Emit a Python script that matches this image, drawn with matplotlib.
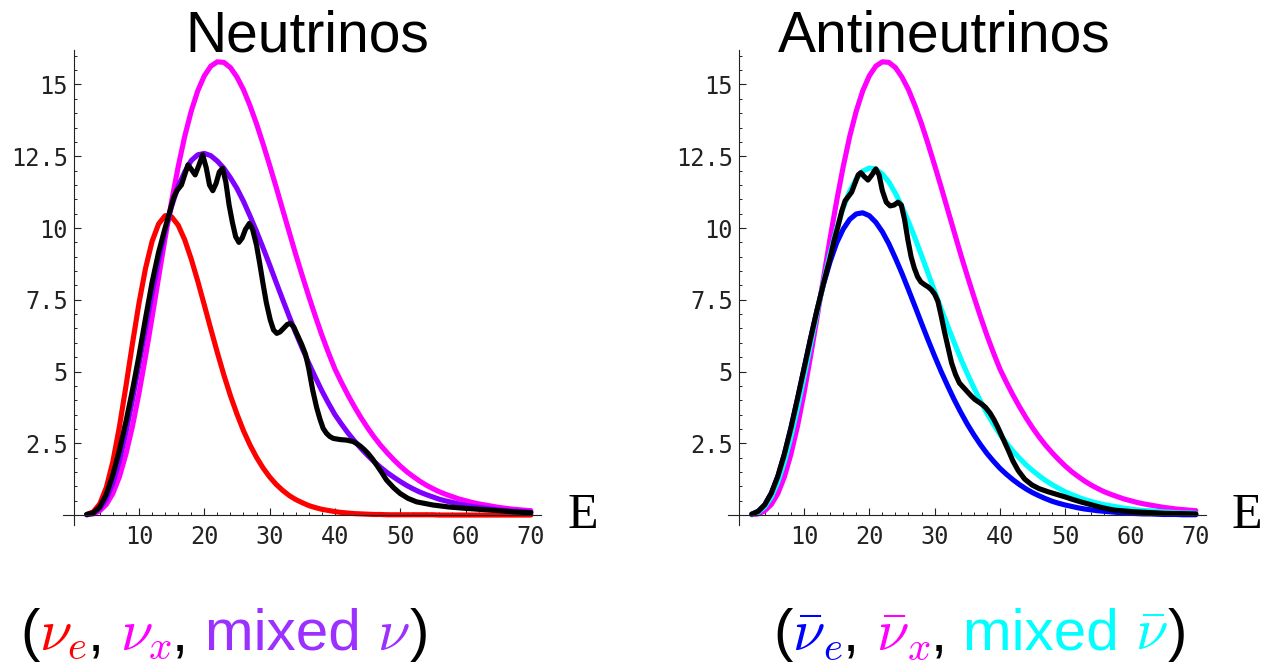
import numpy as np
import matplotlib
matplotlib.use("Agg")
import matplotlib.pyplot as plt
from matplotlib.transforms import IdentityTransform

# Espectros (E de 2 a 70, paso 1)
energy = np.arange(2, 71)

nu_e = [0.02, 0.11, 0.39, 0.96, 1.86, 3.07, 4.48, 5.97, 7.38, 8.59,
        9.53, 10.14, 10.43, 10.39, 10.10, 9.59, 8.92, 8.15, 7.32, 6.48,
        5.66, 4.88, 4.16, 3.52, 2.94, 2.44, 2.01, 1.64, 1.33, 1.07,
        0.86, 0.68, 0.54, 0.43, 0.33, 0.26, 0.20, 0.16, 0.12, 0.09,
        0.07, 0.05, 0.04, 0.03, 0.02, 0.02, 0.01, 0.01, 0.01, 0.01,
        0.01, 0.01, 0.01, 0.01, 0.0, 0.0, 0.0, 0.0, 0.0, 0.0,
        0.0, 0.0, 0.0, 0.0, 0.0, 0.0, 0.0, 0.0, 0.0]

nu_x = [0.01, 0.04, 0.15, 0.37, 0.75, 1.33, 2.12, 3.09, 4.24, 5.52,
        6.88, 8.27, 9.64, 10.94, 12.13, 13.19, 14.07, 14.78, 15.30, 15.64,
        15.79, 15.77, 15.59, 15.26, 14.82, 14.26, 13.63, 12.93, 12.19, 11.43,
        10.64, 9.86, 9.08, 8.34, 7.62, 6.93, 6.27, 5.66, 5.09, 4.62,
        4.18, 3.77, 3.39, 3.04, 2.72, 2.43, 2.17, 1.93, 1.71, 1.51,
        1.34, 1.18, 1.04, 0.92, 0.81, 0.72, 0.64, 0.56, 0.50, 0.44,
        0.39, 0.35, 0.31, 0.27, 0.24, 0.21, 0.19, 0.17, 0.15]

nu_mixed = [0.01, 0.06, 0.23, 0.56, 1.11, 1.89, 2.88, 4.01, 5.25, 6.50,
            7.73, 8.87, 9.89, 10.76, 11.45, 11.95, 12.35, 12.55, 12.60, 12.52,
            12.33, 12.08, 11.75, 11.38, 10.93, 10.42, 9.88, 9.31, 8.72, 8.11,
            7.51, 6.92, 6.35, 5.81, 5.29, 4.80, 4.33, 3.90, 3.50, 3.17,
            2.86, 2.58, 2.32, 2.08, 1.86, 1.66, 1.48, 1.32, 1.17, 1.03,
            0.91, 0.80, 0.71, 0.63, 0.55, 0.49, 0.44, 0.38, 0.34, 0.30,
            0.27, 0.24, 0.21, 0.18, 0.16, 0.14, 0.13, 0.12, 0.10]

anu_e = [0.03, 0.13, 0.36, 0.76, 1.35, 2.12, 3.03, 4.04, 5.09, 6.14,
         7.14, 8.05, 8.83, 9.48, 9.96, 10.30, 10.49, 10.53, 10.43, 10.20,
         9.87, 9.45, 8.95, 8.42, 7.85, 7.27, 6.68, 6.10, 5.54, 5.00,
         4.50, 4.02, 3.58, 3.17, 2.80, 2.46, 2.15, 1.88, 1.63, 1.42,
         1.23, 1.06, 0.91, 0.78, 0.67, 0.57, 0.48, 0.41, 0.35, 0.30,
         0.25, 0.21, 0.18, 0.15, 0.13, 0.11, 0.09, 0.07, 0.06, 0.05,
         0.04, 0.04, 0.03, 0.02, 0.02, 0.02, 0.01, 0.01, 0.01]

anu_x = nu_x  # el mismo espectro en ambos paneles

anu_mixed = [0.02, 0.10, 0.29, 0.63, 1.15, 1.85, 2.72, 3.72, 4.80, 5.93,
             7.05, 8.13, 9.11, 9.98, 10.70, 11.28, 11.71, 11.98, 12.09, 12.05,
             11.88, 11.60, 11.21, 10.75, 10.22, 9.65, 9.04, 8.42, 7.80, 7.19,
             6.59, 6.01, 5.45, 4.93, 4.44, 3.98, 3.55, 3.17, 2.81, 2.51,
             2.23, 1.98, 1.75, 1.55, 1.37, 1.20, 1.06, 0.93, 0.81, 0.71,
             0.62, 0.54, 0.47, 0.41, 0.36, 0.32, 0.28, 0.24, 0.21, 0.18,
             0.16, 0.15, 0.13, 0.11, 0.10, 0.08, 0.07, 0.07, 0.06]

# Curvas negras con oscilaciones (muestreo mas fino)
osc_nu_E = [2, 3, 4, 5, 6, 7, 8, 9, 10, 11, 12, 13, 14,
            14.75, 15.3, 15.8, 16.5, 17.0, 17.5, 18.0, 18.6, 19.2, 19.75,
            20.3, 20.8, 21.3, 21.8, 22.3, 22.8, 23.3, 23.8, 24.3, 24.8,
            25.3, 25.8, 26.3, 26.9, 27.4, 28.0, 28.5, 29.0, 29.5, 30.1,
            30.6, 31.1, 31.6, 32.2, 32.7, 33.2, 33.7, 34.3, 34.9, 35.5,
            36.0, 36.6, 37.2, 37.7, 38.2, 38.7, 39.2, 39.75, 40.8, 41.8,
            42.8, 43.4, 43.9, 44.5, 45.1, 45.7, 46.4, 47.2, 47.9, 49.0,
            50.0, 51.2, 52.5, 55.0, 57.5, 60.2, 62.7, 65.3, 67.5, 70]
osc_nu = [0.02, 0.08, 0.28, 0.72, 1.40, 2.25, 3.25, 4.35, 5.55, 6.85, 8.10, 9.15, 10.00,
          10.60, 11.05, 11.30, 11.50, 11.85, 12.20, 12.05, 11.85, 12.20, 12.55,
          12.10, 11.50, 11.30, 11.55, 11.95, 12.08, 11.60, 10.80, 10.20, 9.70,
          9.50, 9.65, 9.95, 10.16, 9.95, 9.40, 8.75, 8.05, 7.40, 6.80,
          6.45, 6.33, 6.38, 6.52, 6.64, 6.68, 6.55, 6.25, 5.95, 5.60,
          5.10, 4.35, 3.75, 3.35, 3.02, 2.85, 2.74, 2.67, 2.63, 2.61,
          2.56, 2.48, 2.40, 2.28, 2.14, 1.97, 1.74, 1.47, 1.22, 0.95,
          0.75, 0.58, 0.46, 0.35, 0.28, 0.23, 0.19, 0.15, 0.11, 0.08]

osc_anu_E = [2, 3, 4, 5, 6, 7, 8, 9, 10, 11, 12, 13, 14,
             14.6, 15.2, 15.8, 16.3, 16.8, 17.3, 17.8, 18.3, 18.7, 19.2,
             19.8, 20.4, 21.0, 21.5, 22.0, 22.6, 23.2, 23.8, 24.4, 24.9,
             25.4, 25.9, 26.4, 26.9, 27.4, 27.9, 28.5, 29.0, 29.5, 30.0,
             30.5, 31.0, 31.5, 32.0, 32.6, 33.2, 33.8, 34.4, 35.0, 35.6,
             36.2, 36.8, 37.3, 37.8, 38.5, 39.1, 39.7, 40.5, 41.3, 42.0,
             42.8, 43.8, 44.9, 46.0, 47.4, 48.7, 50.0, 51.2, 52.5, 53.8,
             55.1, 56.4, 57.6, 60.2, 62.7, 65.3, 67.5, 70]
osc_anu = [0.03, 0.13, 0.36, 0.76, 1.35, 2.12, 3.03, 4.04, 5.09, 6.14, 7.14, 8.08, 8.95,
           9.55, 10.05, 10.60, 10.95, 11.10, 11.25, 11.55, 11.85, 11.93, 11.80,
           11.67, 11.85, 12.06, 11.85, 11.30, 10.90, 10.77, 10.80, 10.90, 10.80,
           10.30, 9.60, 9.00, 8.60, 8.30, 8.12, 8.02, 7.95, 7.85, 7.70,
           7.45, 6.95, 6.40, 5.90, 5.30, 4.90, 4.60, 4.45, 4.30, 4.15,
           4.02, 3.93, 3.85, 3.75, 3.55, 3.32, 3.05, 2.65, 2.25, 1.88,
           1.55, 1.25, 1.05, 0.92, 0.81, 0.72, 0.63, 0.54, 0.45, 0.37,
           0.29, 0.22, 0.17, 0.12, 0.09, 0.06, 0.05, 0.04]

x_major = [10, 20, 30, 40, 50, 60, 70]
y_major = [2.5, 5, 7.5, 10, 12.5, 15]
y_labels = ["2.5", "5", "7.5", "10", "12.5", "15"]

RED, MAG, VIOL = "#ff0000", "#ff00ff", "#8000ff"
BLUE, CYAN = "#0000ff", "#00ffff"

plt.rcParams["mathtext.fontset"] = "cm"
W, H = 1261, 663
fig = plt.figure(figsize=(W / 100, H / 100), dpi=100)


def panel(left_px, curves, osc_E, osc_v):
    # ejes estilo Mathematica que se cruzan en el origen
    ax = fig.add_axes([left_px / W, 0.2015, 483.3 / W, 0.736])
    for vals, col in curves:
        ax.plot(energy, vals, color=col, lw=3.7, solid_capstyle="round",
                solid_joinstyle="round")
    ax.plot(osc_E, osc_v, color="black", lw=3.7, solid_capstyle="round",
            solid_joinstyle="round")
    ax.set_xlim(-2, 72)
    ax.set_ylim(-0.5, 16.5)
    for s in ("top", "right"):
        ax.spines[s].set_visible(False)
    ax.spines["left"].set_position(("data", 0))
    ax.spines["bottom"].set_position(("data", 0))
    ax.spines["left"].set_bounds(-0.35, 16.2)
    ax.spines["bottom"].set_bounds(-1.7, 71.5)
    for s in ("left", "bottom"):
        ax.spines[s].set_linewidth(0.8)
        ax.spines[s].set_color("#222222")
    ax.set_xticks(x_major)
    ax.set_xticklabels([str(v) for v in x_major])
    ax.set_xticks(np.arange(2, 71, 2), minor=True)
    ax.set_yticks(y_major)
    ax.set_yticklabels(y_labels)
    ax.set_yticks(np.arange(0.5, 16.01, 0.5), minor=True)
    ax.tick_params(which="major", direction="in", length=5, width=0.8,
                   color="#222222", labelsize=17)
    ax.tick_params(which="minor", direction="in", length=2.5, width=0.7,
                   color="#222222")
    ax.tick_params(axis="x", pad=7)
    ax.tick_params(axis="y", pad=4)
    for lbl in ax.get_xticklabels() + ax.get_yticklabels():
        lbl.set_fontfamily("DejaVu Sans Mono")
        lbl.set_color("#222222")
    return ax


panel(60.6, [(nu_e, RED), (nu_x, MAG), (nu_mixed, VIOL)], osc_nu_E, osc_nu)
panel(725.6, [(anu_e, BLUE), (anu_x, MAG), (anu_mixed, CYAN)], osc_anu_E, osc_anu)

# titulos y etiqueta del eje
fig.text(307 / W, 1 - 52 / H, "Neutrinos", ha="center", va="baseline",
         fontsize=41, family="Liberation Sans")
fig.text(944 / W, 1 - 52 / H, "Antineutrinos", ha="center", va="baseline",
         fontsize=41, family="Liberation Sans")
fig.text(583 / W, 1 - 528 / H, "E", ha="center", va="baseline",
         fontsize=36, family="Liberation Serif")
fig.text(1247 / W, 1 - 528 / H, "E", ha="center", va="baseline",
         fontsize=36, family="Liberation Serif")


def colored_label(x_px, y_px, pieces):
    # texto en varios colores, cada trozo tras el anterior
    r = fig.canvas.get_renderer()
    x = x_px
    for s, c in pieces:
        t = fig.text(x, y_px, s, color=c, fontsize=42, family="Liberation Sans",
                     transform=IdentityTransform(), ha="left", va="baseline")
        x = t.get_window_extent(r).x1


colored_label(20, H - 650, [("(", "black"), (r"$\nu_e$", RED), (", ", "black"),
                            (r"$\nu_x$", MAG), (", ", "black"),
                            ("mixed ", "#9b30ff"), (r"$\nu$", "#9b30ff"),
                            (")", "black")])
colored_label(773, H - 650, [("(", "black"), (r"$\bar{\nu}_e$", BLUE), (", ", "black"),
                             (r"$\bar{\nu}_x$", MAG), (", ", "black"),
                             ("mixed ", CYAN), (r"$\bar{\nu}$", CYAN),
                             (")", "black")])

fig.savefig("out.png", dpi=100)
